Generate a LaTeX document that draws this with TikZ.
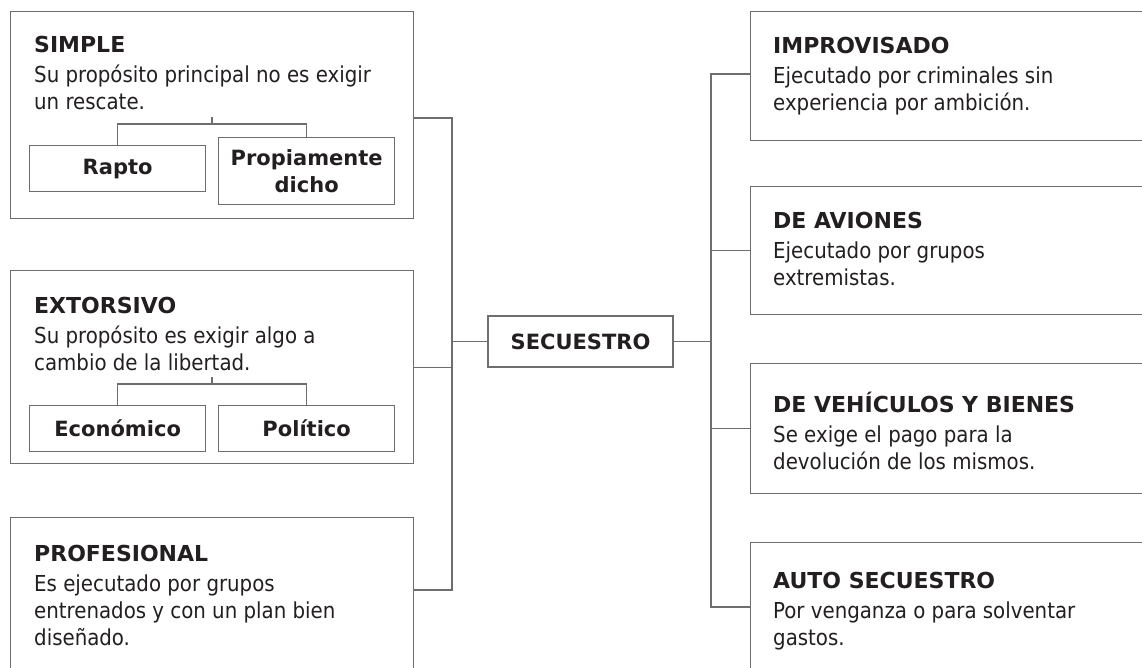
\documentclass[tikz,border=0pt]{standalone}
\usepackage{fontspec}
\setmainfont{DejaVu Sans Condensed}
\newfontfamily\headfont{DejaVu Sans}
\usetikzlibrary{positioning}
\definecolor{linegray}{RGB}{110,110,110}
\definecolor{textgray}{RGB}{35,31,32}
\newcommand{\boxtitle}[1]{{\headfont\bfseries #1}}
\tikzset{
    bigbox/.style={draw=linegray, line width=1.3pt, rectangle, anchor=north west, inner sep=0pt},
    subbox/.style={draw=linegray, line width=1.3pt, rectangle, minimum width=176pt, inner sep=0pt,
        align=center, font=\fontsize{21}{27}\selectfont\headfont\bfseries, text=textgray},
    desc/.style={anchor=north west, inner sep=0pt, align=left, font=\fontsize{22}{27}\selectfont, text=textgray},
    link/.style={draw=linegray, line width=1.3pt}
}
\begin{document}
\begin{tikzpicture}[x=1pt, y=-1pt]
            \useasboundingbox (0,0) rectangle (1142,668);
            \clip (0,0) rectangle (1142,668);
            % left side
            \node[bigbox, minimum width=403pt, minimum height=207pt] (simple) at (10,11) {};
            \node[bigbox, minimum width=403pt, minimum height=193pt] (extorsivo) at (10,270) {};
            \node[bigbox, minimum width=403pt, minimum height=200pt] (profesional) at (10,517) {};
            \node[desc] (simpletxt) at (34,33) {\strut\boxtitle{SIMPLE}\\[3pt]Su propósito principal no es exigir\\un rescate.};
            \node[desc] (extorsivotxt) at (34,294) {\strut\boxtitle{EXTORSIVO}\\[3pt]Su propósito es exigir algo a\\cambio de la libertad.};
            \node[desc] (profesionaltxt) at (34,542) {\strut\boxtitle{PROFESIONAL}\\[3pt]Es ejecutado por grupos\\entrenados y con un plan bien\\diseñado.};
            \node[subbox, anchor=north west, minimum height=46pt] (rapto) at (29,145) {Rapto};
            \node[subbox, anchor=north west, minimum height=67pt] (propio) at (218,137) {Propiamente\\dicho};
            \node[subbox, anchor=north west, minimum height=46pt] (eco) at (29,405) {Económico};
            \node[subbox, anchor=north west, minimum height=46pt] (pol) at (218,405) {Político};
            \coordinate (stemA) at (212,117);
            \coordinate (stemB) at (212,377);
            \draw[link] (stemA) -- ++(0,7);
            \draw[link] (rapto.north) -- ++(0,-21) -| (propio.north);
            \draw[link] (stemB) -- ++(0,7);
            \draw[link] (eco.north) -- ++(0,-21) -| (pol.north);
            % center
            \node[subbox, minimum width=185pt, minimum height=51pt] (sec) at (580.5,341.5) {SECUESTRO};
            \coordinate (lt) at (452,118);
            \coordinate (lb) at (452,590);
            \draw[link] (lt -| simple.east) -- (lt) -- (lb) -- (lb -| profesional.east);
            \draw[link] (extorsivo.east) -- (extorsivo.east -| lt);
            \draw[link] (sec.west) -- (sec.west -| lt);
            % right side
            \node[bigbox, minimum width=420pt, minimum height=129pt] (improvisado) at (750,11) {};
            \node[bigbox, minimum width=420pt, minimum height=128pt] (aviones) at (750,186) {};
            \node[bigbox, minimum width=420pt, minimum height=130pt] (vehiculos) at (750,363) {};
            \node[bigbox, minimum width=420pt, minimum height=140pt] (auto) at (750,542) {};
            \node[desc] (improvisadotxt) at (773,34) {\strut\boxtitle{IMPROVISADO}\\[3pt]Ejecutado por criminales sin\\experiencia por ambición.};
            \node[desc] (avionestxt) at (773,209) {\strut\boxtitle{DE AVIONES}\\[3pt]Ejecutado por grupos\\extremistas.};
            \node[desc] (vehiculostxt) at (773,392) {\strut\boxtitle{DE VEHÍCULOS Y BIENES}\\[3pt]Se exige el pago para la\\devolución de los mismos.};
            \node[desc] (autotxt) at (773,569) {\strut\boxtitle{AUTO SECUESTRO}\\[3pt]Por venganza o para solventar\\gastos.};
            \coordinate (rt) at (711,74);
            \coordinate (rb) at (711,607);
            \draw[link] (rt -| improvisado.west) -- (rt) -- (rb) -- (rb -| auto.west);
            \draw[link] (aviones.west) -- (aviones.west -| rt);
            \draw[link] (vehiculos.west) -- (vehiculos.west -| rt);
            \draw[link] (sec.east) -- (sec.east -| rt);
        \end{tikzpicture}
\end{document}
